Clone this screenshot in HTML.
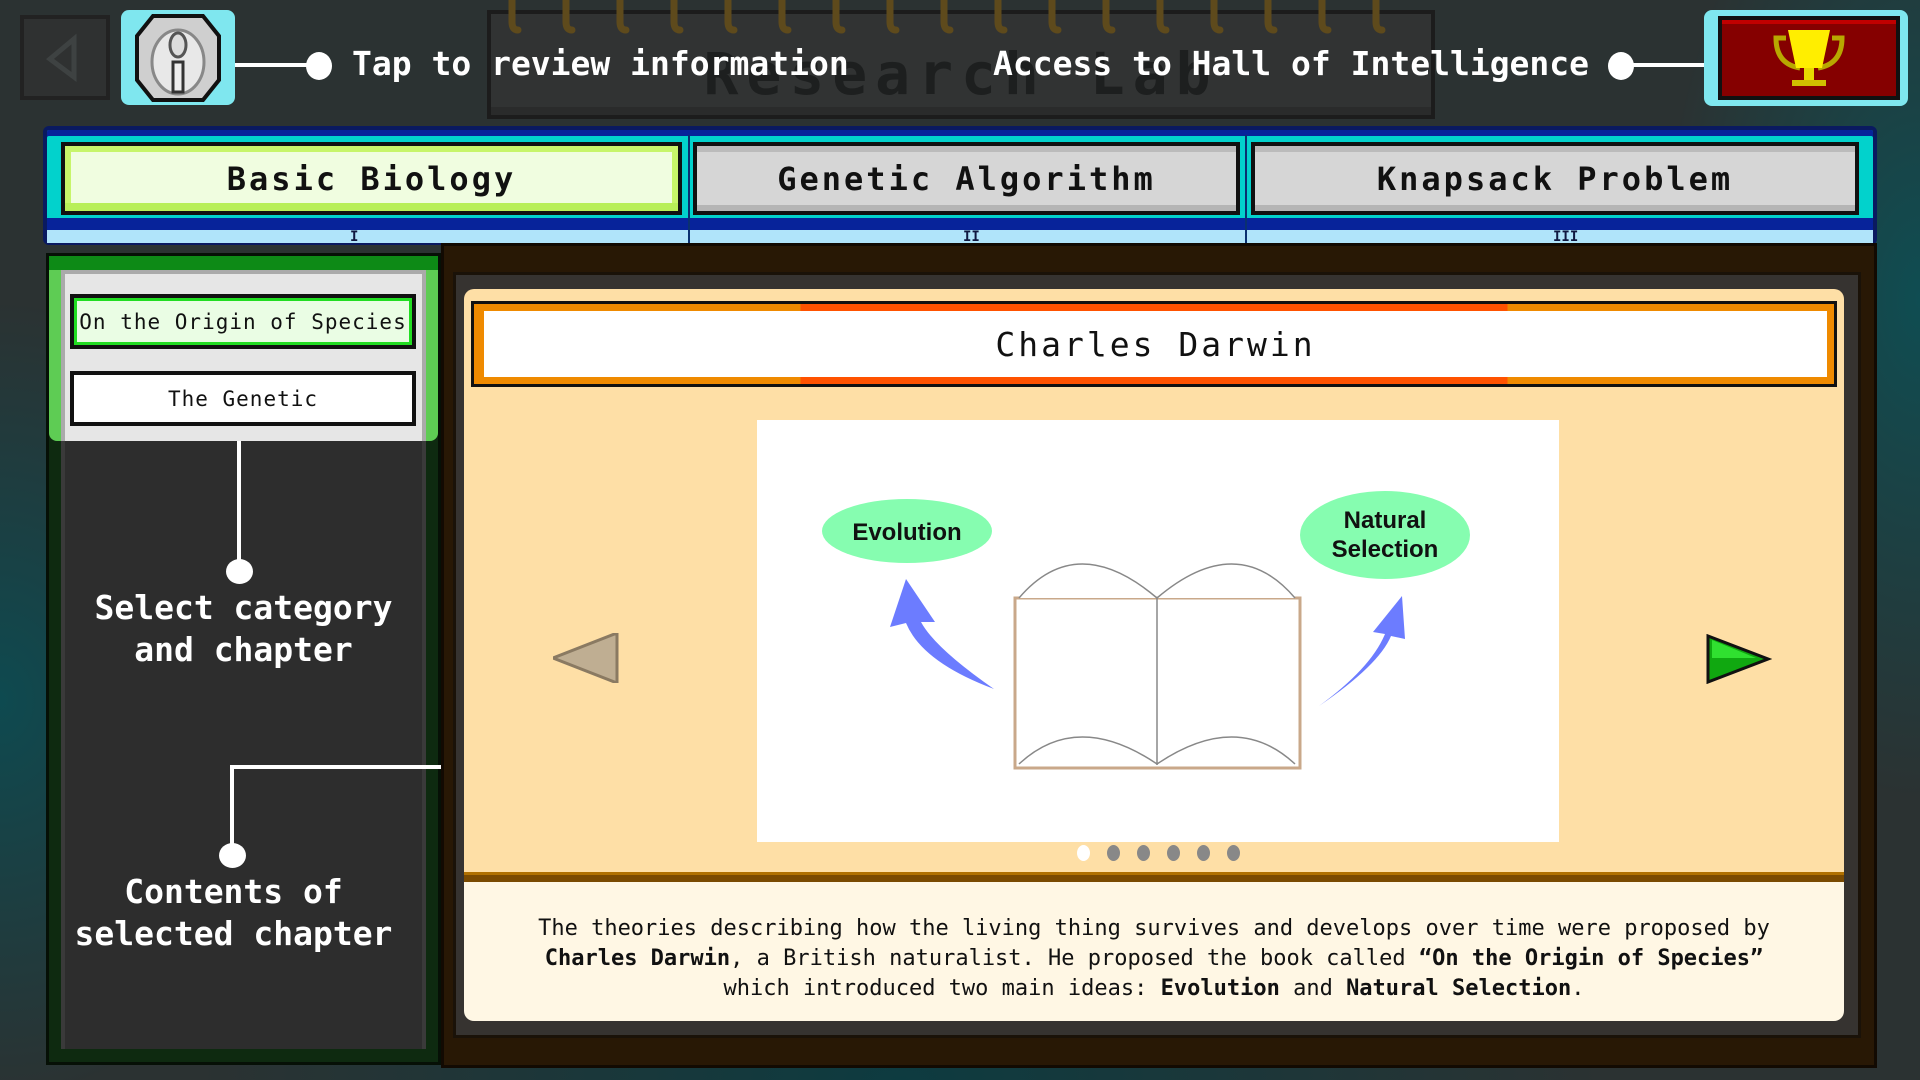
<!DOCTYPE html>
<html><head><meta charset="utf-8"><style>
*{margin:0;padding:0;box-sizing:border-box}
body{width:1920px;height:1080px;overflow:hidden;position:relative;font-family:"DejaVu Sans Mono","Liberation Mono",monospace;
background:radial-gradient(ellipse 300px 400px at 0px 700px,#0e4a50 0%,rgba(14,74,80,0) 100%),radial-gradient(ellipse 260px 500px at 1920px 300px,#0f4d52 0%,rgba(15,77,82,0) 100%),radial-gradient(ellipse 700px 300px at 900px 1080px,#0d3b40 0%,rgba(13,59,64,0) 100%),#2b3232}
.a{position:absolute}
.w{color:#fff;font-weight:bold}
.tab{position:absolute;top:142px;height:73px;background:#d6d6d6;border:4px solid #111;box-shadow:inset 0 6px 0 #bbb,inset 0 -6px 0 #b5b5b5;font-size:32px;font-weight:bold;letter-spacing:3px;display:flex;align-items:center;justify-content:center;color:#111}
.chap{position:absolute;left:70px;width:346px;height:55px;border:4px solid #111;display:flex;align-items:center;justify-content:center;font-size:21px;letter-spacing:1px;color:#111}
.dot{position:absolute;width:13px;height:16px;border-radius:50%;background:#888;top:845px}
</style></head><body>
<!-- top bar -->
<div class="a" style="left:20px;top:15px;width:90px;height:85px;background:#2f3131;border:4px solid #222">
<svg width="82" height="77"><polygon points="50,20 50,58 26,40" fill="none" stroke="#3e4242" stroke-width="5"/></svg></div>
<div class="a" style="left:121px;top:10px;width:114px;height:95px;background:#7fe7ef;border-radius:8px">
<svg width="114" height="95"><polygon points="32,6 82,6 98,26 98,70 82,90 32,90 16,70 16,26" fill="#cfcfcf" stroke="#111" stroke-width="4"/><ellipse cx="57" cy="52" rx="26" ry="32" fill="#e8e8e8" stroke="#888" stroke-width="3"/><ellipse cx="57" cy="35" rx="8" ry="12" fill="#ddd" stroke="#555" stroke-width="3"/><rect x="52" y="52" width="10" height="30" fill="#eee" stroke="#333" stroke-width="3"/></svg></div>
<div class="a" style="left:235px;top:63px;width:83px;height:4px;background:#fff"></div>
<div class="a" style="left:306px;top:52px;width:26px;height:28px;border-radius:50%;background:#fff"></div>
<div class="a" style="left:487px;top:10px;width:948px;height:109px;background:#313333;border:4px solid #1c1c1c;box-shadow:inset 0 -8px 0 #2a2b2b"></div>
<div class="a" style="left:487px;top:40px;width:948px;text-align:center;font-size:58px;color:#1d1f1f;letter-spacing:8px;font-weight:bold">Research Lab</div>
<div class="a" style="left:500px;top:0;width:900px;height:34px">
<svg width="900" height="34"><g fill="none" stroke="#5e4a1c" stroke-width="7" stroke-linecap="round">
<path d="M12 0 v22 q0 8 6 8"/><path d="M66 0 v22 q0 8 6 8"/><path d="M120 0 v22 q0 8 6 8"/><path d="M174 0 v22 q0 8 6 8"/><path d="M228 0 v22 q0 8 6 8"/><path d="M282 0 v22 q0 8 6 8"/><path d="M336 0 v22 q0 8 6 8"/><path d="M390 0 v22 q0 8 6 8"/><path d="M444 0 v22 q0 8 6 8"/><path d="M498 0 v22 q0 8 6 8"/><path d="M552 0 v22 q0 8 6 8"/><path d="M606 0 v22 q0 8 6 8"/><path d="M660 0 v22 q0 8 6 8"/><path d="M714 0 v22 q0 8 6 8"/><path d="M768 0 v22 q0 8 6 8"/><path d="M822 0 v22 q0 8 6 8"/><path d="M876 0 v22 q0 8 6 8"/></g></svg></div>
<div class="a w" style="left:352px;top:44px;font-size:33px;font-weight:bold">Tap to review information</div>
<div class="a w" style="left:993px;top:44px;font-size:33px;font-weight:bold">Access to Hall of Intelligence</div>
<div class="a" style="left:1608px;top:52px;width:26px;height:28px;border-radius:50%;background:#fff"></div>
<div class="a" style="left:1620px;top:63px;width:86px;height:4px;background:#fff"></div>
<div class="a" style="left:1704px;top:10px;width:204px;height:96px;background:#7fe7ef;border-radius:8px">
<div class="a" style="left:14px;top:6px;width:182px;height:84px;background:#850000;border:4px solid #111;box-shadow:inset 0 4px 0 #c00000"></div>
<svg class="a" style="left:60px;top:14px" width="90" height="70"><path d="M22 14 h-10 q0 26 24 30" fill="none" stroke="#b8a800" stroke-width="5"/><path d="M68 14 h10 q0 26 -24 30" fill="none" stroke="#b8a800" stroke-width="5"/><path d="M24 6 h42 l-8 38 h-26z" fill="#ffee00"/><rect x="40" y="44" width="10" height="14" fill="#e8d800"/><rect x="28" y="56" width="34" height="6" fill="#d0c000"/></svg></div>

<!-- tab bar -->
<div class="a" style="left:43px;top:126px;width:1834px;height:119px;background:#02d2cc;border:4px solid #0a1a60;border-radius:6px;box-shadow:inset 0 6px 0 #07239a"></div>
<div class="a" style="left:47px;top:218px;width:1826px;height:12px;background:#07239a"></div>
<div class="a" style="left:47px;top:230px;width:1826px;height:13px;background:#b0e4fa"></div>
<div class="a" style="left:688px;top:135px;width:2px;height:108px;background:#0a3070"></div>
<div class="a" style="left:1245px;top:135px;width:2px;height:108px;background:#0a3070"></div>
<div class="a" style="left:350px;top:229px;font-size:14px;font-weight:bold;color:#101840">I</div>
<div class="a" style="left:963px;top:229px;font-size:14px;font-weight:bold;color:#101840">II</div>
<div class="a" style="left:1553px;top:229px;font-size:14px;font-weight:bold;color:#101840">III</div>
<div class="tab" style="left:61px;width:621px;background:#f0fde0;box-shadow:inset 0 6px 0 #c7f56a,inset 0 -8px 0 #b8ef58,inset 6px 0 0 #c7f56a,inset -6px 0 0 #c7f56a">Basic Biology</div>
<div class="tab" style="left:693px;width:547px">Genetic Algorithm</div>
<div class="tab" style="left:1251px;width:608px">Knapsack Problem</div>

<!-- left panel -->
<div class="a" style="left:46px;top:253px;width:395px;height:812px;background:#0e2a10;border:3px solid #061006"></div>
<div class="a" style="left:49px;top:256px;width:389px;height:14px;background:#0d8a16"></div>
<div class="a" style="left:49px;top:270px;width:389px;height:171px;background:#5ecc54;border-radius:0 0 8px 8px"></div>
<div class="a" style="left:61px;top:270px;width:365px;height:171px;background:#e6e6e6;border:4px solid #aaa;border-bottom:none"></div>
<div class="a" style="left:61px;top:441px;width:365px;height:608px;background:#2d2d2d;border-left:4px solid #3a3a3a;border-right:4px solid #3a3a3a"></div>
<div class="chap" style="top:294px;background:#eafde4;box-shadow:inset 0 0 0 3px #22dd22">On the Origin of Species</div>
<div class="chap" style="top:371px;background:#fff">The Genetic</div>
<div class="a" style="left:237px;top:441px;width:4px;height:130px;background:#fff"></div>
<div class="a" style="left:226px;top:559px;width:27px;height:25px;border-radius:50%;background:#fff"></div>
<div class="a w" style="left:61px;top:587px;width:365px;text-align:center;font-size:33px;line-height:42px">Select category<br>and chapter</div>
<div class="a" style="left:230px;top:765px;width:234px;height:4px;background:#fff"></div>
<div class="a" style="left:230px;top:765px;width:4px;height:90px;background:#fff"></div>
<div class="a" style="left:219px;top:843px;width:27px;height:25px;border-radius:50%;background:#fff"></div>
<div class="a w" style="left:51px;top:871px;width:365px;text-align:center;font-size:33px;line-height:42px">Contents of<br>selected chapter</div>

<!-- right panel -->
<div class="a" style="left:441px;top:243px;width:1436px;height:825px;background:#281805;border:3px solid #120a02"></div>
<div class="a" style="left:453px;top:272px;width:1408px;height:766px;background:#363330;border:3px solid #1a1208"></div>
<div class="a" style="left:464px;top:289px;width:1380px;height:587px;background:#fedfa6;border-radius:10px 10px 0 0"></div>
<div class="a" style="left:464px;top:872px;width:1380px;height:10px;background:#7a4a00;border-top:3px solid #b07000"></div>
<div class="a" style="left:464px;top:882px;width:1380px;height:139px;background:#fff7e4;border-radius:0 0 10px 10px"></div>
<div class="a" style="left:464px;top:914px;width:1380px;text-align:center;font-size:22px;line-height:30px;color:#111">The theories describing how the living thing survives and develops over time were proposed by<br><b>Charles Darwin</b>, a British naturalist. He proposed the book called <b>“On the Origin of Species”</b><br>which introduced two main ideas: <b>Evolution</b> and <b>Natural Selection</b>.</div>

<div class="a" style="left:471px;top:301px;width:1366px;height:86px;background:linear-gradient(90deg,#ef8a00 0,#ef8a00 24%,#ff5200 24%,#ff5200 76%,#ef8a00 76%);border:3px solid #111"></div>
<div class="a" style="left:484px;top:311px;width:1343px;height:66px;background:#fff;display:flex;align-items:center;justify-content:center;font-size:33px;letter-spacing:3px;color:#111">Charles Darwin</div>

<div class="a" style="left:757px;top:420px;width:802px;height:422px;background:#fff"></div>
<svg class="a" style="left:757px;top:420px" width="802" height="422">
<ellipse cx="150" cy="111" rx="85" ry="32" fill="#86fdb0"/>
<text x="150" y="120" text-anchor="middle" font-family="Liberation Sans,sans-serif" font-weight="bold" font-size="24" fill="#111">Evolution</text>
<ellipse cx="628" cy="115" rx="85" ry="44" fill="#86fdb0"/>
<text x="628" y="108" text-anchor="middle" font-family="Liberation Sans,sans-serif" font-weight="bold" font-size="24" fill="#111">Natural</text>
<text x="628" y="137" text-anchor="middle" font-family="Liberation Sans,sans-serif" font-weight="bold" font-size="24" fill="#111">Selection</text>
<path d="M237 269 Q178 228 164 202 L178 202 L149 159 L133 207 L149 203 Q165 242 237 269Z" fill="#6c7cff"/>
<path d="M562 286 Q622 245 634 216 L648 219 L645 176 L616 212 L628 214 Q614 248 562 286Z" fill="#6c7cff"/>
<g fill="none" stroke="#888" stroke-width="1.5">
<rect x="258" y="178" width="285" height="170" fill="#fff" stroke="#c9a88a" stroke-width="3"/>
<path d="M262 178 Q320 110 400 178 Q480 110 538 178" fill="#fff"/>
<line x1="400" y1="178" x2="400" y2="345"/>
<path d="M262 344 Q320 290 400 344 Q480 290 538 344"/>
</g></svg>

<svg class="a" style="left:553px;top:633px" width="66" height="50"><polygon points="64,0 64,50 0,25" fill="#bfae92" stroke="#8a7a62" stroke-width="3"/></svg>
<svg class="a" style="left:1706px;top:634px" width="66" height="50"><polygon points="2,2 2,48 62,25" fill="#10a810" stroke="#111" stroke-width="3"/><polygon points="6,6 6,24 50,24" fill="#30e030"/></svg>

<div class="dot" style="left:1077px;background:#fff"></div>
<div class="dot" style="left:1107px"></div>
<div class="dot" style="left:1137px"></div>
<div class="dot" style="left:1167px"></div>
<div class="dot" style="left:1197px"></div>
<div class="dot" style="left:1227px"></div>
</body></html>
